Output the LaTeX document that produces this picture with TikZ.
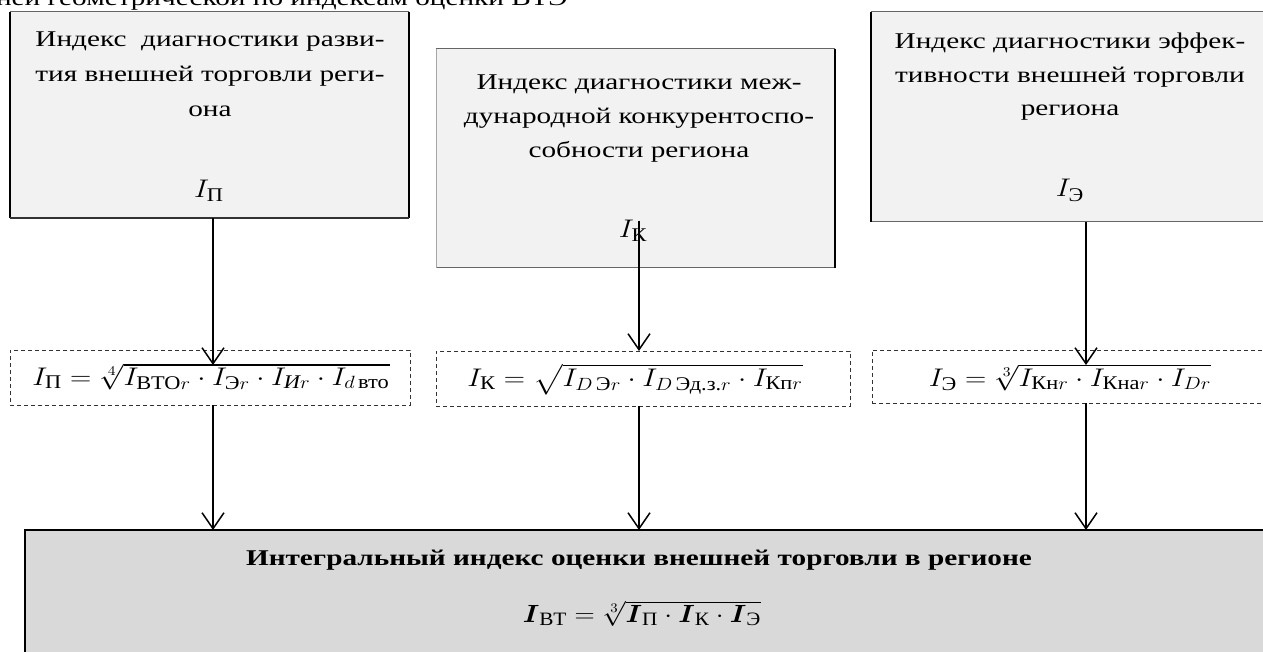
\documentclass[tikz,border=0pt]{standalone}
\usepackage{amsmath}
\usepackage{graphicx}
\usepackage{fontspec}
\setmainfont{Liberation Serif}
\usetikzlibrary{arrows.meta}
\definecolor{boxgray}{HTML}{F2F2F2}
\definecolor{maingray}{HTML}{D9D9D9}
\newcommand{\sxt}[1]{\scalebox{1.3}[1]{#1}}
\newcommand{\sxm}[1]{\scalebox{1.42}[1.23]{#1}}
\begin{document}
\begin{tikzpicture}[x=1pt,y=-1pt,
  every node/.style={inner sep=0pt,outer sep=0pt,font=\fontsize{22.5}{33}\selectfont},
  topbox/.style={fill=boxgray,anchor=north west},
  thinedge/.style={draw=black!60,line width=1pt},
  thickedge/.style={draw=black,line width=2pt},
  dbox/.style={draw=black!80,line width=0.7pt,dash pattern=on 4pt off 3pt,anchor=north west},
  mainbox/.style={draw=black,line width=1.5pt,fill=maingray,anchor=north west},
  lbl/.style={anchor=base},
  arr/.style={line width=1.5pt,-{Straight Barb[length=16pt,width=22pt,line width=1.5pt]}}]
\useasboundingbox (0,0) rectangle (1263,652);
\clip (0,0) rectangle (1263,652);
% clipped line above
\node[anchor=base west] (cut) at (-4,6) {\sxt{ней геометрической по индексам оценки ВТЭ}};
% top boxes
\node[topbox,minimum width=399pt,minimum height=206pt] (bp) at (10,12) {};
\node[topbox,minimum width=399pt,minimum height=219pt] (bk) at (436,49) {};
\node[topbox,minimum width=420pt,minimum height=210pt] (be) at (871,12) {};
\draw[thinedge] (bp.north west) -- (bp.north east);
\draw[thickedge] (bp.north west) -- (bp.south west);
\draw[thickedge] (bp.north east) -- (bp.south east);
\draw[draw=black!80,line width=1.4pt] (bp.south west) -- (bp.south east);
\draw[thinedge] (bk.north west) -- (bk.north east);
\draw[thinedge] (bk.south west) -- (bk.south east);
\draw[draw=black!35,line width=1pt] (bk.north west) -- (bk.south west);
\draw[thickedge] (bk.north east) -- (bk.south east);
\draw[thinedge] (be.north west) -- (be.north east);
\draw[thinedge] (be.south west) -- (be.south east);
\draw[thickedge] (be.north west) -- (be.south west);
\node[lbl] (tp1) at (210,47) {\sxt{Индекс~ диагностики разви-}};
\node[lbl] (tp2) at (210,82) {\sxt{тия внешней торговли реги-}};
\node[lbl] (tp3) at (210,117) {\sxt{она}};
\node[lbl] (ip) at (209,198) {\sxm{$I_{\text{П}}$}};
\node[lbl] (tk1) at (639,90) {\sxt{Индекс диагностики меж-}};
\node[lbl] (tk2) at (639,124) {\sxt{дународной конкурентоспо-}};
\node[lbl] (tk3) at (639,158) {\sxt{собности региона}};
\node[lbl] (ik) at (633,238) {\sxm{$I_{\text{К}}$}};
\node[lbl] (te1) at (1070,49) {\sxt{Индекс диагностики эффек-}};
\node[lbl] (te2) at (1070,83) {\sxt{тивности внешней торговли}};
\node[lbl] (te3) at (1070,116) {\sxt{региона}};
\node[lbl] (ie) at (1070,197) {\sxm{$I_{\text{Э}}$}};
% dashed formula boxes
\node[dbox,minimum width=400pt,minimum height=55pt] (dp) at (10,350) {};
\node[dbox,minimum width=414pt,minimum height=55pt] (dk) at (436,351) {};
\node[dbox,minimum width=410pt,minimum height=53pt] (de) at (872,350) {};
\node[lbl] (fp) at (211,385) {\sxm{$I_{\text{П}} = \sqrt[4]{I_{\text{ВТО}r}\cdot I_{\text{Э}r}\cdot I_{\textit{И}r}\cdot I_{d\,\text{вто}}}$}};
\node[lbl] (fk) at (635,386) {\sxm{$I_{\text{К}} = \sqrt{I_{D\,\text{Э}r}\cdot I_{D\,\text{Эд.з.}r}\cdot I_{\text{Кп}r}}$}};
\node[lbl] (fe) at (1070,386) {\sxm{$I_{\text{Э}} = \sqrt[3]{I_{\text{Кн}r}\cdot I_{\text{Кна}r}\cdot I_{Dr}}$}};
% main box
\node[mainbox,minimum width=1260pt,minimum height=150pt] (bm) at (25,530) {};
\node[lbl,font=\fontsize{22.5}{33}\selectfont\bfseries] (tm) at (639,565) {\sxt{Интегральный индекс оценки внешней торговли в регионе}};
\node[lbl] (fm) at (642,622) {\scalebox{1.35}[1.2]{$\boldsymbol{I}_{\textnormal{ВТ}} = \sqrt[3]{\boldsymbol{I}_{\textnormal{П}}\cdot\boldsymbol{I}_{\textnormal{К}}\cdot\boldsymbol{I}_{\textnormal{Э}}}$}};
% arrows
\coordinate (x1) at (213,0);
\coordinate (x2) at (639,0);
\coordinate (x3) at (1086,0);
\draw[arr] (bp.south -| x1) -- ([yshift=-15pt]dp.north -| x1);
\draw[arr] (ik.north -| x2) -- (dk.north -| x2);
\draw[arr] (be.south -| x3) -- ([yshift=-15pt]de.north -| x3);
\draw[arr] (dp.south -| x1) -- (bm.north -| x1);
\draw[arr] (dk.south -| x2) -- (bm.north -| x2);
\draw[arr] (de.south -| x3) -- (bm.north -| x3);
\end{tikzpicture}
\end{document}
